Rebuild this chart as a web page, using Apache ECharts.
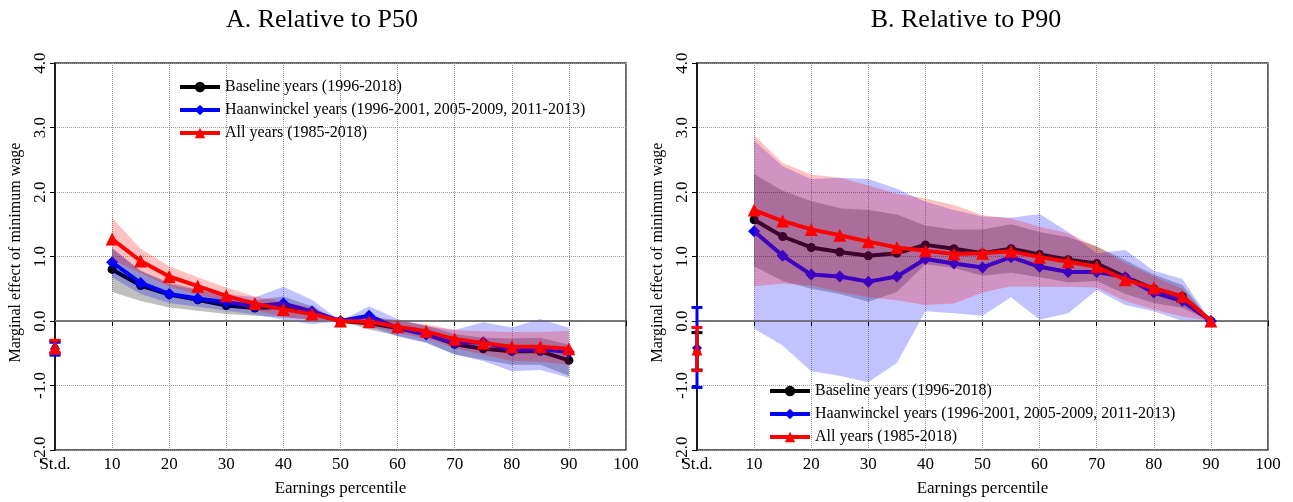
<!DOCTYPE html>
<html>
<head>
<meta charset="utf-8" />
<script src="https://cdn.jsdelivr.net/npm/echarts@6/dist/echarts.min.js"></script>
<style>
  body { margin: 0; background: #fff; }
  #chart { width: 1293px; height: 502px; }
</style>
</head>
<body>
<div id="chart"></div>
<script>
// percentiles shown on the x axis (St.d. sits at 0)
const pct = [10, 15, 20, 25, 30, 35, 40, 45, 50, 55, 60, 65, 70, 75, 80, 85, 90];

const names = [
  "Baseline years (1996-2018)",
  "Haanwinckel years (1996-2001, 2005-2009, 2011-2013)",
  "All years (1985-2018)",
];

// A. Relative to P50
const aBase = [0.80, 0.55, 0.41, 0.33, 0.24, 0.20, 0.22, 0.12, 0, -0.03, -0.11, -0.20, -0.36, -0.43, -0.47, -0.47, -0.61];
const aBaseLo = [0.45, 0.31, 0.21, 0.16, 0.11, 0.08, 0.06, 0.02, 0, -0.13, -0.23, -0.33, -0.52, -0.60, -0.68, -0.68, -0.85];
const aBaseHi = [1.12, 0.78, 0.60, 0.49, 0.37, 0.32, 0.38, 0.23, 0, 0.07, 0.01, -0.07, -0.20, -0.26, -0.27, -0.26, -0.37];
const aHaan = [0.91, 0.59, 0.42, 0.35, 0.29, 0.23, 0.27, 0.15, 0, 0.08, -0.11, -0.21, -0.34, -0.33, -0.45, -0.44, -0.48];
const aHaanLo = [0.68, 0.42, 0.28, 0.22, 0.16, 0.10, 0.02, -0.05, 0, -0.08, -0.24, -0.34, -0.52, -0.62, -0.78, -0.76, -0.88];
const aHaanHi = [1.14, 0.78, 0.57, 0.48, 0.42, 0.37, 0.53, 0.33, 0, 0.23, 0.03, -0.08, -0.14, -0.02, -0.10, 0.03, -0.11];
const aAll = [1.27, 0.93, 0.69, 0.54, 0.39, 0.27, 0.18, 0.11, 0, -0.01, -0.09, -0.16, -0.28, -0.34, -0.40, -0.40, -0.43];
const aAllLo = [0.95, 0.74, 0.54, 0.41, 0.29, 0.17, 0.06, 0.02, 0, -0.08, -0.18, -0.27, -0.42, -0.52, -0.62, -0.63, -0.68];
const aAllHi = [1.60, 1.12, 0.85, 0.68, 0.52, 0.38, 0.30, 0.20, 0, 0.06, 0.00, -0.05, -0.14, -0.16, -0.17, -0.17, -0.15];
// St.d. error bars [top, point, bottom]
const aSdBase = [-0.31, -0.41, -0.50];
const aSdHaan = [-0.33, -0.43, -0.53];
const aSdAll = [-0.30, -0.40, -0.50];

// B. Relative to P90
const bBase = [1.57, 1.31, 1.14, 1.07, 1.01, 1.05, 1.18, 1.12, 1.05, 1.12, 1.03, 0.95, 0.89, 0.68, 0.50, 0.38, 0];
const bBaseLo = [0.85, 0.62, 0.50, 0.42, 0.30, 0.45, 0.88, 0.82, 0.70, 0.75, 0.68, 0.60, 0.62, 0.42, 0.28, 0.20, 0];
const bBaseHi = [2.28, 2.02, 1.86, 1.75, 1.72, 1.65, 1.48, 1.42, 1.42, 1.50, 1.38, 1.30, 1.16, 0.94, 0.72, 0.56, 0];
const bHaan = [1.39, 1.01, 0.72, 0.69, 0.61, 0.69, 0.96, 0.89, 0.83, 0.99, 0.84, 0.76, 0.76, 0.68, 0.44, 0.31, 0];
const bHaanLo = [-0.12, -0.38, -0.78, -0.85, -0.95, -0.65, 0.15, 0.12, 0.08, 0.37, 0.02, 0.12, 0.48, 0.25, 0.15, 0.0, 0];
const bHaanHi = [2.80, 2.40, 2.20, 2.22, 2.20, 2.05, 1.85, 1.72, 1.62, 1.60, 1.66, 1.38, 1.05, 1.10, 0.78, 0.65, 0];
const bAll = [1.72, 1.55, 1.42, 1.33, 1.23, 1.14, 1.09, 1.04, 1.05, 1.08, 0.99, 0.92, 0.84, 0.64, 0.51, 0.38, 0];
const bAllLo = [0.54, 0.58, 0.55, 0.45, 0.37, 0.32, 0.25, 0.27, 0.44, 0.54, 0.53, 0.53, 0.52, 0.31, 0.18, 0.07, 0];
const bAllHi = [2.88, 2.45, 2.27, 2.22, 2.10, 1.97, 1.90, 1.80, 1.64, 1.59, 1.46, 1.36, 1.15, 0.90, 0.69, 0.50, 0];
const bSdBase = [-0.18, -0.47, -0.76];
const bSdHaan = [0.21, -0.42, -1.03];
const bSdAll = [-0.10, -0.45, -0.77];

const FONT = "Liberation Serif";
const colors = ["#000000", "#0000ff", "#ff0000"];
const bandColors = ["rgba(0,0,0,0.25)", "rgba(0,0,255,0.24)", "rgba(255,0,0,0.24)"];
const symbols = ["circle", "diamond", "triangle"];
const symbolSizes = [9, 12, 13];

// band k sits above line k-1 and below line k (z order like the original)
function band(idx, k, lo, hi) {
  return {
    type: "custom",
    name: "band" + idx + "_" + k,
    xAxisIndex: idx,
    yAxisIndex: idx,
    silent: true,
    z: 2 + 2 * k,
    data: pct.map((p, i) => [p, lo[i], hi[i]]),
    encode: { x: 0, y: [1, 2] },
    renderItem: function (params, api) {
      if (params.dataIndex !== 0) return null;
      let pts = [];
      for (let i = 0; i < pct.length; i++) pts.push(api.coord([pct[i], hi[i]]));
      for (let i = pct.length - 1; i >= 0; i--) pts.push(api.coord([pct[i], lo[i]]));
      return {
        type: "polygon",
        shape: { points: pts },
        style: { fill: bandColors[k] },
      };
    },
  };
}

function line(idx, k, vals) {
  return {
    type: "line",
    name: names[k],
    xAxisIndex: idx,
    yAxisIndex: idx,
    z: 3 + 2 * k,
    data: pct.map((p, i) => [p, vals[i]]),
    symbol: symbols[k],
    symbolSize: symbolSizes[k],
    showAllSymbol: true,
    color: colors[k],
    lineStyle: { width: 4, color: colors[k] },
    itemStyle: { color: colors[k] },
    emphasis: { disabled: true },
  };
}

function sdBar(idx, k, sd) {
  return {
    type: "line",
    name: "sd" + idx + "_" + k,
    xAxisIndex: idx,
    yAxisIndex: idx,
    z: 10 + k,
    data: [
      { value: [0, sd[0]], symbol: "rect", symbolSize: [11, 3] },
      { value: [0, sd[1]], symbol: symbols[k], symbolSize: symbolSizes[k] - 2 },
      { value: [0, sd[2]], symbol: "rect", symbolSize: [11, 3] },
    ],
    lineStyle: { width: 3, color: colors[k] },
    itemStyle: { color: colors[k] },
    emphasis: { disabled: true },
    silent: true,
  };
}

function panel(idx, d) {
  let s = [];
  for (let k = 0; k < 3; k++) {
    s.push(band(idx, k, d[k][1], d[k][2]));
    s.push(line(idx, k, d[k][0]));
  }
  // zero reference line
  s[0].markLine = {
    silent: true,
    symbol: "none",
    label: { show: false },
    lineStyle: { type: "solid", color: "#8c8c8c", width: 1.5 },
    data: [{ yAxis: 0 }],
  };
  for (let k = 0; k < 3; k++) s.push(sdBar(idx, k, d[k][3]));
  return s;
}

function xAx(idx) {
  return {
    type: "value",
    gridIndex: idx,
    min: 0,
    max: 100,
    interval: 10,
    name: "Earnings percentile",
    nameLocation: "middle",
    nameGap: 30,
    nameTextStyle: { fontFamily: FONT, fontSize: 17, color: "#000" },
    axisLine: { lineStyle: { color: "#000", width: 1.5 } },
    axisTick: { length: 5, lineStyle: { color: "#000" } },
    axisLabel: {
      fontFamily: FONT,
      fontSize: 17,
      color: "#000",
      margin: 6,
      formatter: (v) => (v === 0 ? "St.d." : v),
    },
    splitLine: { show: true, lineStyle: { type: "dotted", color: "#999" } },
  };
}

function yAx(idx) {
  return {
    type: "value",
    gridIndex: idx,
    min: -2,
    max: 4,
    interval: 1,
    name: "Marginal effect of minimum wage",
    nameLocation: "middle",
    nameRotate: 90,
    nameGap: 31,
    nameTextStyle: { fontFamily: FONT, fontSize: 16, color: "#000", padding: [0, 0, 0, 8] },
    axisLine: { show: true, lineStyle: { color: "#000", width: 1.5 } },
    axisTick: { show: true, length: 5, lineStyle: { color: "#000" } },
    axisLabel: {
      fontFamily: FONT,
      fontSize: 17,
      color: "#000",
      rotate: 90,
      margin: 6,
      formatter: (v) => v.toFixed(1),
    },
    splitLine: { show: true, lineStyle: { type: "dotted", color: "#999" } },
  };
}

function legend(left, top) {
  return {
    data: names,
    orient: "vertical",
    left: left,
    top: top,
    itemWidth: 40,
    itemHeight: 13,
    itemGap: 7,
    lineStyle: { width: 4 },
    textStyle: { fontFamily: FONT, fontSize: 16, color: "#000" },
    selectedMode: false,
  };
}

const chart = echarts.init(document.getElementById("chart"));

chart.setOption({
  animation: false,
  backgroundColor: "#fff",
  title: [
    {
      text: "A. Relative to P50",
      left: 317,
      top: 2,
      textAlign: "center",
      textStyle: { fontFamily: FONT, fontSize: 26, fontWeight: "normal", color: "#000" },
    },
    {
      text: "B. Relative to P90",
      left: 961,
      top: 2,
      textAlign: "center",
      textStyle: { fontFamily: FONT, fontSize: 26, fontWeight: "normal", color: "#000" },
    },
  ],
  legend: [legend(173, 74), legend(763, 378)],
  grid: [
    { left: 55, top: 63, width: 571, height: 393, show: true, borderColor: "#333", borderWidth: 1.5 },
    { left: 697, top: 63, width: 571, height: 393, show: true, borderColor: "#333", borderWidth: 1.5 },
  ],
  xAxis: [xAx(0), xAx(1)],
  yAxis: [yAx(0), yAx(1)],
  series: [].concat(
    panel(0, [
      [aBase, aBaseLo, aBaseHi, aSdBase],
      [aHaan, aHaanLo, aHaanHi, aSdHaan],
      [aAll, aAllLo, aAllHi, aSdAll],
    ]),
    panel(1, [
      [bBase, bBaseLo, bBaseHi, bSdBase],
      [bHaan, bHaanLo, bHaanHi, bSdHaan],
      [bAll, bAllLo, bAllHi, bSdAll],
    ])
  ),
});
</script>
</body>
</html>
